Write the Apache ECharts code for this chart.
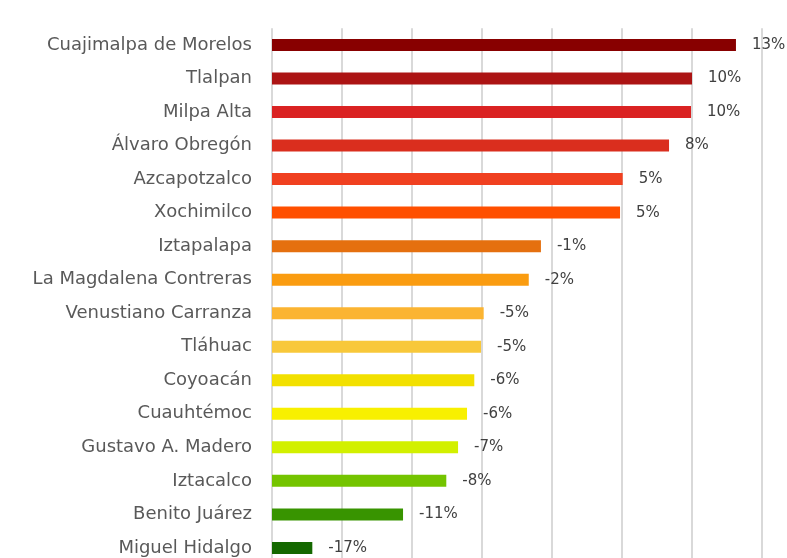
<!DOCTYPE html>
<html>
<head>
<meta charset="utf-8">
<script src="https://cdn.jsdelivr.net/npm/echarts@6/dist/echarts.min.js"></script>
<style>
  html, body { margin: 0; padding: 0; background: #ffffff; }
  #chart { width: 787px; height: 558px; }
</style>
</head>
<body>
<div id="chart"></div>
<script>
// Alcaldías, top to bottom
const alcaldias = [
  'Cuajimalpa de Morelos', 'Tlalpan', 'Milpa Alta', 'Álvaro Obregón',
  'Azcapotzalco', 'Xochimilco', 'Iztapalapa', 'La Magdalena Contreras',
  'Venustiano Carranza', 'Tláhuac', 'Coyoacán', 'Cuauhtémoc',
  'Gustavo A. Madero', 'Iztacalco', 'Benito Juárez', 'Miguel Hidalgo'
];

// Percentage change per alcaldía
const variacion = [
  13.14, 10.0, 9.93, 8.36,
  5.05, 4.86, -0.79, -1.66,
  -4.88, -5.07, -5.55, -6.07,
  -6.71, -7.55, -10.64, -17.12
];

// One colour per bar, red through orange and yellow to green
const colores = [
  '#880000', '#ac1414', '#da2222', '#da2e1e',
  '#f04020', '#ff4f00', '#e5700f', '#fa9c10',
  '#fbb432', '#f8c83a', '#f2e000', '#f8f000',
  '#d2f000', '#74c400', '#389400', '#146800'
];

const chart = echarts.init(document.getElementById('chart'), null, { renderer: 'canvas' });

// Reverse so the first category sits at the top of the category axis
const cats = alcaldias.slice().reverse();
const vals = variacion.slice().reverse();
const cols = colores.slice().reverse();

chart.setOption({
  animation: false,
  backgroundColor: '#ffffff',
  grid: {
    left: 272, width: 490, top: 28.2, height: 536.5,
    containLabel: false,
    outerBoundsMode: 'none'
  },
  xAxis: {
    type: 'value',
    min: -20,
    max: 15,
    interval: 5,
    startValue: -20,
    axisLine: { show: false },
    axisTick: { show: false },
    axisLabel: { show: false },
    splitLine: { show: true, lineStyle: { color: '#d9d9d9', width: 2 } }
  },
  yAxis: {
    type: 'category',
    data: cats,
    axisLine: { show: false },
    axisTick: { show: false },
    axisLabel: {
      margin: 20,
      color: '#595959',
      fontFamily: 'DejaVu Sans',
      fontSize: 18
    }
  },
  series: [{
    type: 'bar',
    barWidth: 12,
    data: vals.map((v, i) => ({ value: v, itemStyle: { color: cols[i] } })),
    label: {
      show: true,
      position: 'right',
      distance: 16,
      color: '#404040',
      fontFamily: 'DejaVu Sans',
      fontSize: 15,
      formatter: p => Math.round(p.value) + '%'
    }
  }]
});
</script>
</body>
</html>
